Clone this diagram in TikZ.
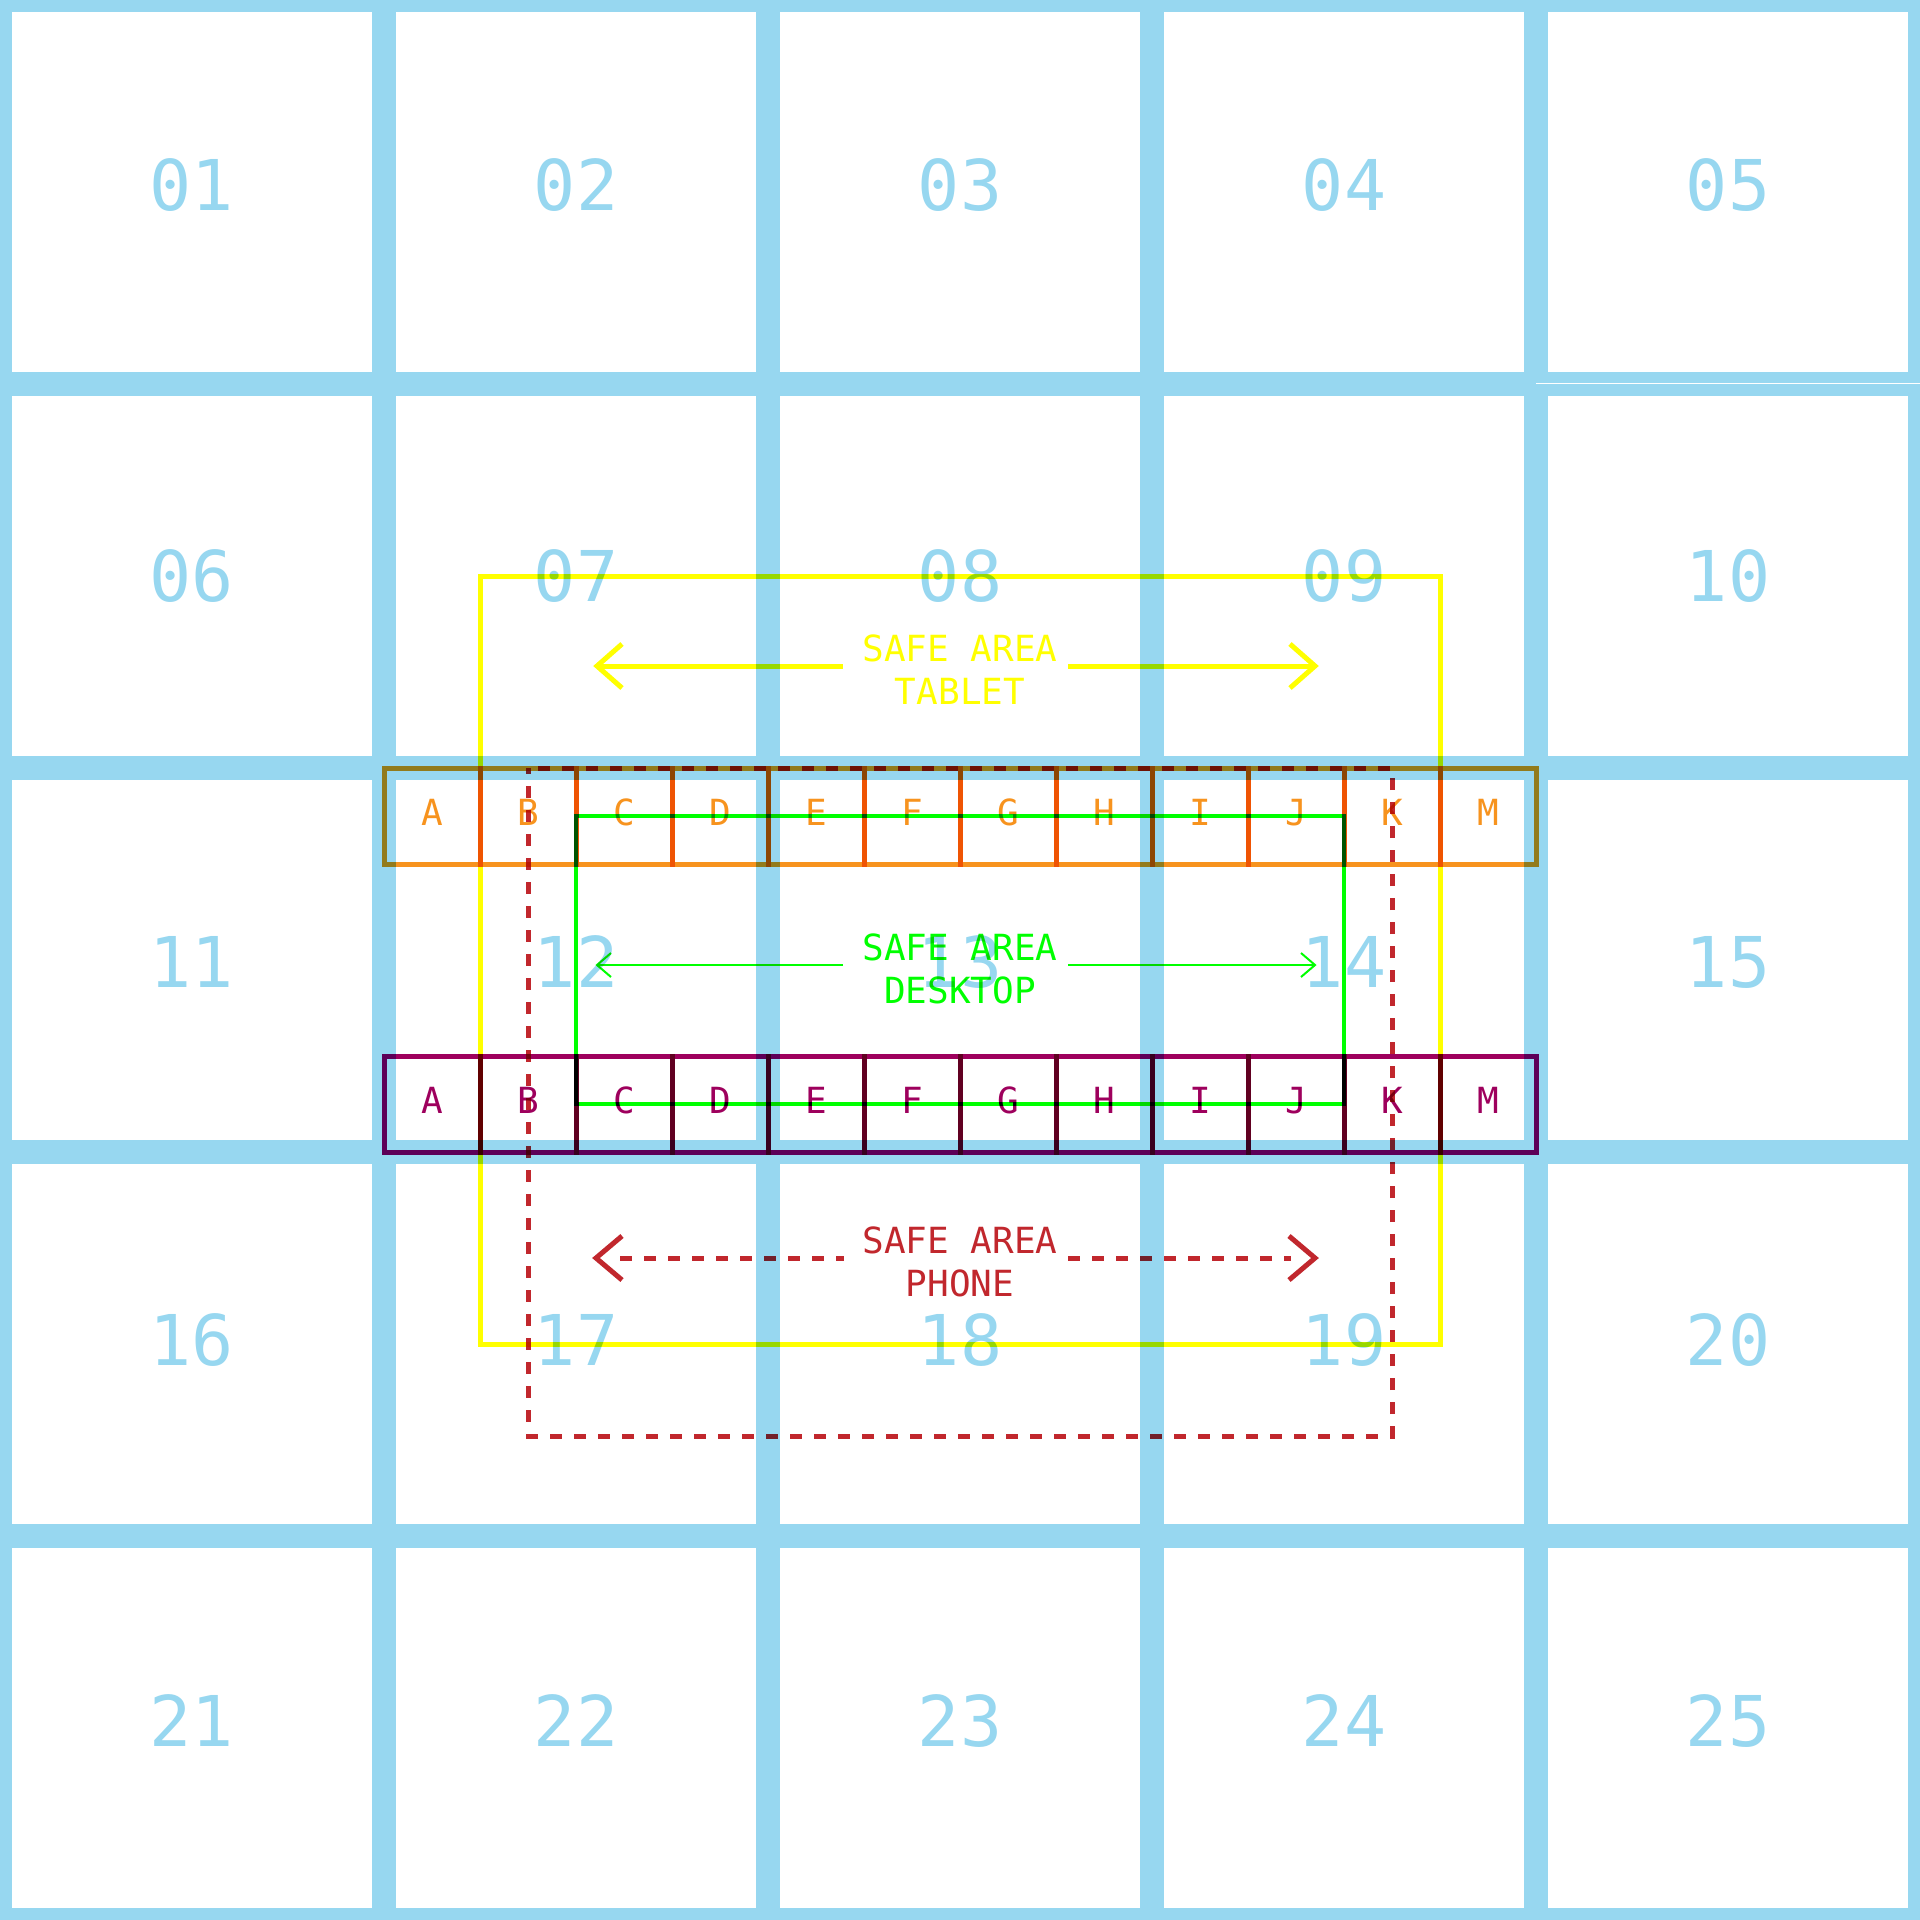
\documentclass[tikz,border=0pt]{standalone}
\usepackage{fontspec}
\newfontfamily\monof{DejaVu Sans Mono}
\definecolor{gridblue}{HTML}{97D7F0}
\definecolor{safeyellow}{HTML}{FFFF00}
\definecolor{safegreen}{HTML}{00FF00}
\definecolor{safered}{HTML}{C1272D}
\definecolor{stripOrange}{HTML}{F7931E}
\definecolor{stripPurple}{HTML}{9E005D}
\tikzset{
  gridline/.style={draw=gridblue, line width=24pt},
  gridnum/.style={text=gridblue, font=\monof\fontsize{70}{84}\selectfont, anchor=base, inner sep=0pt},
  tabletline/.style={draw=safeyellow, line width=5pt},
  desktopline/.style={draw=safegreen, line width=4.5pt},
  phoneline/.style={draw=safered, line width=5pt, dash pattern=on 12pt off 12pt},
  tabarrow/.style={draw=safeyellow, line width=5pt, line join=miter},
  deskarrow/.style={draw=safegreen, line width=2pt, line join=miter},
  phonearrow/.style={draw=safered, line width=5pt, line join=miter},
  cellbox/.style={rectangle, minimum size=96pt, inner sep=0pt, line width=5pt,
    text height=18pt, text depth=0pt, font=\monof\fontsize{36}{43}\selectfont},
  topcell/.style={cellbox, draw=stripOrange, text=stripOrange},
  botcell/.style={cellbox, draw=stripPurple, text=stripPurple},
  lbl/.style={font=\monof\fontsize{36}{43}\selectfont, align=center, anchor=base, inner sep=0pt},
}
\begin{document}
\begin{tikzpicture}[x=1pt,y=-1pt]
\useasboundingbox (0,0) rectangle (1920,1920);
\fill[white] (0,0) rectangle (1920,1920);
% grid
\begin{scope}
  \clip (0,0) rectangle (1920,1920);
  \foreach \i in {0,...,5} {
    \draw[gridline] (384*\i,-20) -- (384*\i,1940);
    \draw[gridline] (-20,384*\i) -- (1940,384*\i);
  }
  \draw[white, line width=1pt] (1536,383.5) -- (1920,383.5);
\end{scope}
% cell numbers
\foreach \r/\yb in {0/210,1/601,2/987,3/1365,4/1746} {
  \foreach \c in {0,...,4} {
    \pgfmathtruncatemacro{\n}{5*\r+\c+1}
    \node[gridnum] (n\n) at (192+384*\c,\yb) {\ifnum\n<10 0\fi\n};
  }
}
% overlays
\begin{scope}[blend mode=multiply]
  % safe area rectangles
  \draw[tabletline] (480,576) rectangle (1440,1344);
  \draw[desktopline] (576,816) rectangle (1344,1104);
  \draw[phoneline, dash phase=6pt] (528,768) rectangle (1392,1436);
  % labels (base = baseline of the last line)
  \node[lbl, text=safeyellow] (tabletlbl) at (960,704) {SAFE AREA\\TABLET};
  \node[lbl, text=safegreen] (desktoplbl) at (960,1003) {SAFE AREA\\DESKTOP};
  \node[lbl, text=safered] (phonelbl) at (960,1296) {SAFE AREA\\PHONE};
  % tablet arrows
  \coordinate (tabLs) at (843,666);
  \coordinate (tabLt) at (597,666);
  \coordinate (tabRs) at (1068,666);
  \coordinate (tabRt) at (1315,666);
  \draw[tabarrow] (tabLs) -- (tabLt);
  \draw[tabarrow] ([shift={(25,-22)}]tabLt) -- (tabLt) -- ([shift={(25,22)}]tabLt);
  \draw[tabarrow] (tabRs) -- (tabRt);
  \draw[tabarrow] ([shift={(-25,-22)}]tabRt) -- (tabRt) -- ([shift={(-25,22)}]tabRt);
  % desktop arrows
  \coordinate (deskLs) at (843,965);
  \coordinate (deskLt) at (597,965);
  \coordinate (deskRs) at (1068,965);
  \coordinate (deskRt) at (1315,965);
  \draw[deskarrow] (deskLs) -- (deskLt);
  \draw[deskarrow] ([shift={(14,-12)}]deskLt) -- (deskLt) -- ([shift={(14,12)}]deskLt);
  \draw[deskarrow] (deskRs) -- (deskRt);
  \draw[deskarrow] ([shift={(-14,-12)}]deskRt) -- (deskRt) -- ([shift={(-14,12)}]deskRt);
  % phone arrows
  \coordinate (phLs) at (844,1258);
  \coordinate (phLt) at (596,1258);
  \coordinate (phRs) at (1068,1258);
  \coordinate (phRt) at (1315,1258);
  \draw[phoneline] ([xshift=24pt]phLt) -- (phLs);
  \draw[phonearrow] ([shift={(26,-22)}]phLt) -- (phLt) -- ([shift={(26,22)}]phLt);
  \draw[phoneline] (phRs) -- ([xshift=-24pt]phRt);
  \draw[phonearrow] ([shift={(-26,-22)}]phRt) -- (phRt) -- ([shift={(-26,22)}]phRt);
  % column strips
  \foreach \L [count=\k from 0] in {A,B,C,D,E,F,G,H,I,J,K,M} {
    \node[topcell] (t\L) at (432+96*\k,816) {\L};
    \node[botcell] (b\L) at (432+96*\k,1104) {\L};
  }
\end{scope}
\end{tikzpicture}
\end{document}
